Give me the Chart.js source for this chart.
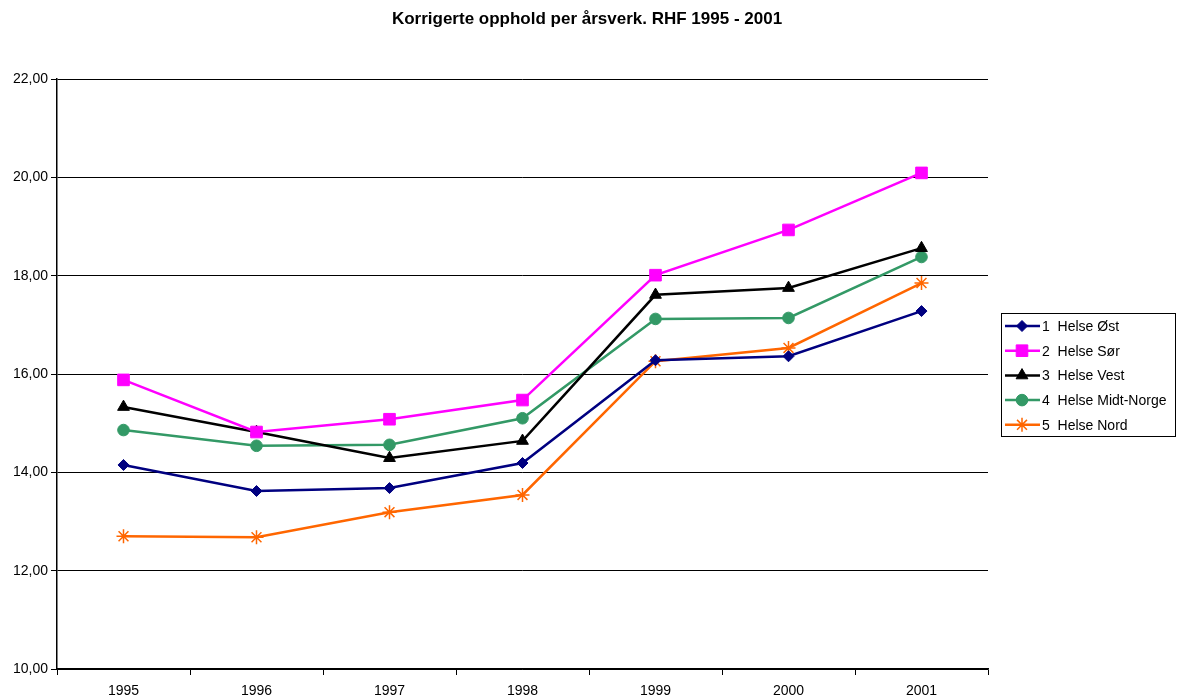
<!DOCTYPE html>
<html>
<head>
<meta charset="utf-8">
<script src="https://cdn.jsdelivr.net/npm/chart.js@4/dist/chart.umd.min.js"></script>
<style>
html,body{margin:0;padding:0;background:#fff;}
#wrap{width:1185px;height:700px;position:relative;}
</style>
</head>
<body>
<div id="wrap"><canvas id="c" width="1185" height="700"></canvas></div>
<script>
const titleText = "Korrigerte opphold per årsverk. RHF 1995 - 2001";
const years = ["1995","1996","1997","1998","1999","2000","2001"];
const helseOst   = [14.15, 13.62, 13.68, 14.19, 16.28, 16.36, 17.28];
const helseSor   = [15.88, 14.82, 15.08, 15.47, 18.01, 18.93, 20.09];
const helseVest  = [15.33, 14.82, 14.29, 14.64, 17.61, 17.75, 18.56];
const helseMidt  = [14.86, 14.54, 14.56, 15.10, 17.12, 17.14, 18.38];
const helseNord  = [12.70, 12.68, 13.19, 13.54, 16.26, 16.53, 17.85];
const seriesNames = ["1  Helse Øst","2  Helse Sør","3  Helse Vest","4  Helse Midt-Norge","5  Helse Nord"];

const FONT = "'Liberation Sans', Arial, sans-serif";

function ds(label, data, color, style, radius){
  return {label, data, borderColor: color, backgroundColor: color,
    pointBackgroundColor: color, pointBorderColor: color,
    pointStyle: style, pointRadius: radius, pointHoverRadius: radius,
    pointBorderWidth: style === 'star' ? 1.5 : 1,
    borderWidth: 2.5, tension: 0, fill: false};
}

const datasets = [
  ds(seriesNames[0], helseOst, '#000080', 'rectRot', 5.5),
  ds(seriesNames[1], helseSor, '#FF00FF', 'rect', 8.2),
  ds(seriesNames[2], helseVest, '#000000', 'triangle', 6.8),
  ds(seriesNames[3], helseMidt, '#339966', 'circle', 5.8),
  ds(seriesNames[4], helseNord, '#FF6600', 'star', 7)
];

const extras = {
  id: 'extras',
  afterDraw(chart){
    const ctx = chart.ctx;
    ctx.save();
    // title
    ctx.fillStyle = '#000';
    ctx.font = "bold 17px " + FONT;
    ctx.textAlign = 'center';
    ctx.textBaseline = 'middle';
    ctx.fillText(titleText, 587, 19);
    // legend
    const bx = 1001.5, by = 313.5, bw = 174, bh = 123;
    ctx.fillStyle = '#fff';
    ctx.fillRect(bx, by, bw, bh);
    ctx.strokeStyle = '#000';
    ctx.lineWidth = 1;
    ctx.strokeRect(bx, by, bw, bh);
    ctx.font = "14px " + FONT;
    ctx.textAlign = 'left';
    chart.data.datasets.forEach((d, i) => {
      const y = 326 + i * 24.7;
      ctx.strokeStyle = d.borderColor;
      ctx.lineWidth = 2.5;
      ctx.beginPath();
      ctx.moveTo(1005, y);
      ctx.lineTo(1040, y);
      ctx.stroke();
      ctx.fillStyle = d.pointBackgroundColor;
      ctx.strokeStyle = d.pointBorderColor;
      ctx.lineWidth = d.pointBorderWidth;
      Chart.helpers.drawPoint(ctx, {pointStyle: d.pointStyle, radius: d.pointRadius, rotation: 0, borderWidth: d.pointBorderWidth}, 1022, y);
      ctx.fillStyle = '#000';
      ctx.fillText(d.label, 1042, y + 1);
    });
    ctx.restore();
  }
};

new Chart(document.getElementById('c'), {
  type: 'line',
  data: {labels: years, datasets},
  options: {
    responsive: false,
    animation: false,
    layout: {padding: {left: 0, right: 197, top: 79, bottom: 0}},
    plugins: {legend: {display: false}, title: {display: false}, tooltip: {enabled: false}},
    scales: {
      x: {
        offset: true,
        grid: {offset: true, drawOnChartArea: false, drawTicks: true, tickLength: 6, color: '#000'},
        border: {color: '#000', width: 1.5},
        ticks: {color: '#000', font: {family: FONT, size: 14}, padding: 8, maxRotation: 0},
        afterFit(s){ s.height = 31; }
      },
      y: {
        min: 10, max: 22,
        grid: {color: '#000', lineWidth: 1, tickLength: 6},
        border: {color: '#000', width: 1.5},
        ticks: {stepSize: 2, color: '#000', font: {family: FONT, size: 14}, padding: 3,
          callback: v => v.toFixed(2).replace('.', ',')},
        afterFit(s){ s.width = 57; }
      }
    }
  },
  plugins: [extras]
});
</script>
</body>
</html>
